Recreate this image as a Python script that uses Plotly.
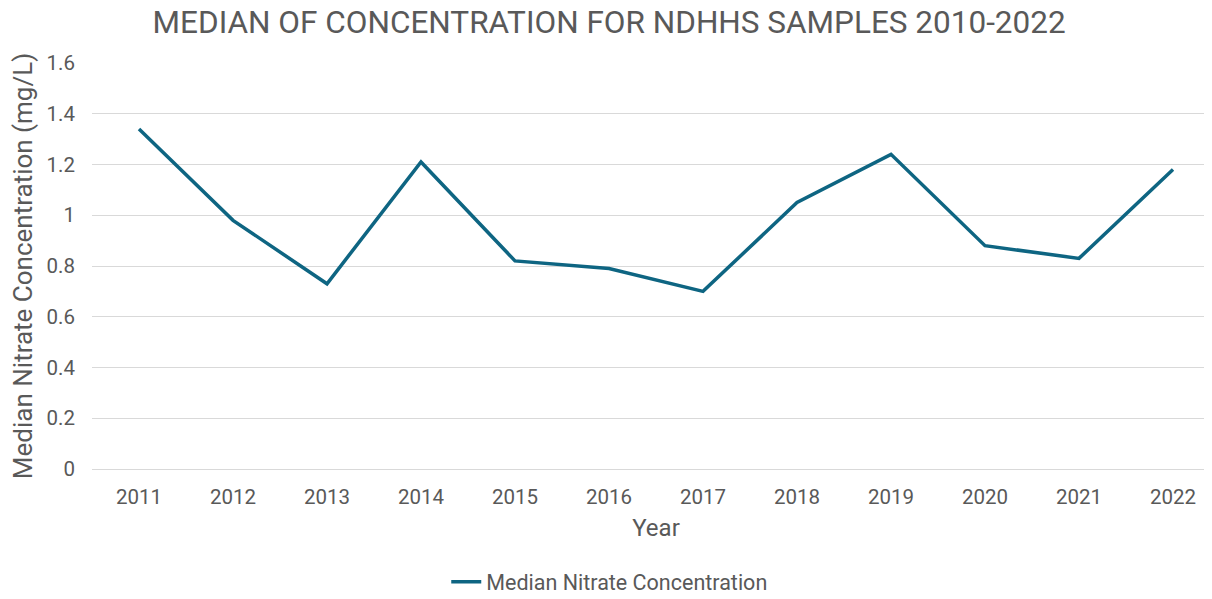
import plotly.graph_objects as go

years = ["2011", "2012", "2013", "2014", "2015", "2016", "2017", "2018", "2019", "2020", "2021", "2022"]
median_nitrate = [1.34, 0.98, 0.73, 1.21, 0.82, 0.79, 0.70, 1.05, 1.24, 0.88, 0.83, 1.18]
y_ticks = [0, 0.2, 0.4, 0.6, 0.8, 1, 1.2, 1.4, 1.6]
y_tick_labels = ["0", "0.2", "0.4", "0.6", "0.8", "1", "1.2", "1.4", "1.6"]

txt = "#595959"
fig = go.Figure()
fig.add_trace(go.Scatter(
    x=years, y=median_nitrate, mode="lines",
    name="Median Nitrate Concentration",
    line=dict(color="#0E6582", width=3.5),
))
fig.update_layout(
    width=1212, height=599,
    paper_bgcolor="white", plot_bgcolor="white",
    margin=dict(l=84, r=0, t=55, b=138),
    font=dict(family="Roboto", color=txt, size=20),
    title=dict(text="MEDIAN OF CONCENTRATION FOR NDHHS SAMPLES 2010-2022",
               x=0.496, xref="container", xanchor="center", y=0.977, yanchor="middle",
               font=dict(size=31.5, color=txt)),
    showlegend=True,
    legend=dict(orientation="h", x=0.459, xanchor="center", y=-0.278, yanchor="middle",
                font=dict(size=21.5, color=txt), itemwidth=30),
    xaxis=dict(type="category", range=[-0.5, 11.5], showgrid=False, showline=False, ticks="",
               automargin=False, ticklabelstandoff=13,
               title=dict(text="Year", font=dict(size=24, color=txt), standoff=11),
               tickfont=dict(size=20.5, color=txt)),
    yaxis=dict(range=[0, 1.6], tickvals=y_ticks, ticktext=y_tick_labels,
               showgrid=True, gridcolor="#D9D9D9", gridwidth=1,
               zeroline=True, zerolinecolor="#D9D9D9", zerolinewidth=1,
               ticks="", ticklabelstandoff=16, automargin=False,
               title=dict(text="Median Nitrate Concentration (mg/L)", font=dict(size=26, color=txt), standoff=12),
               tickfont=dict(size=20.5, color=txt)),
)
fig.write_html("out.html")
